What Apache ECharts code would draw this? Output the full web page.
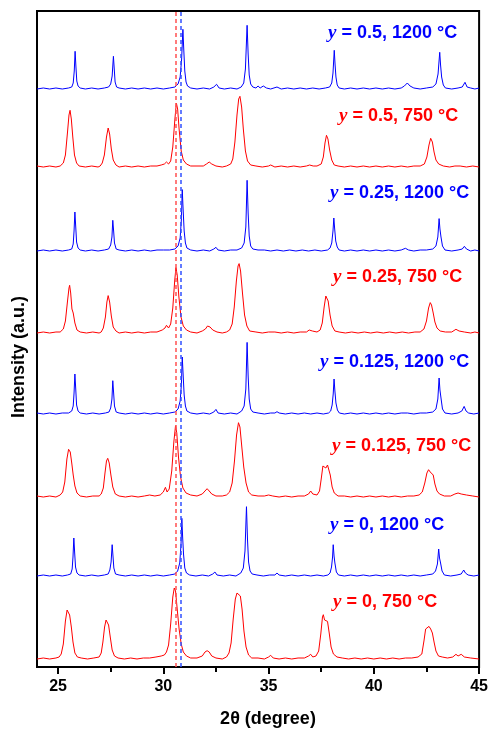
<!DOCTYPE html>
<html>
<head>
<meta charset="utf-8">
<script src="https://cdn.jsdelivr.net/npm/echarts@6/dist/echarts.min.js"></script>
<style>
  html, body { margin: 0; padding: 0; background: #fff; }
  #chart { width: 491px; height: 729px; }
</style>
</head>
<body>
<div id="chart"></div>
<script>
// XRD patterns, [2θ, intensity above baseline]
const b05 = [[24.0,0],[24.3,1],[24.6,0],[24.9,1],[25.2,0],[25.5,1],[25.65,2],[25.72,6],[25.77,18],[25.81,37.7],[25.85,22],[25.89,8],[25.95,3],[26.05,1],[26.3,0],[26.6,1],[26.9,0],[27.2,1],[27.4,2],[27.5,5],[27.57,13],[27.63,32.7],[27.67,20],[27.71,7],[27.78,2],[27.9,1],[28.2,0],[28.5,1],[28.8,0],[29.1,1],[29.4,0],[29.7,1],[30.0,0],[30.3,1],[30.55,2],[30.7,5],[30.8,12],[30.87,30],[30.93,59.7],[30.97,40],[31.02,18],[31.08,7],[31.15,3],[31.3,1],[31.6,0],[31.9,1],[32.2,0],[32.4,2],[32.53,4.7],[32.65,1],[32.9,0],[33.2,1],[33.5,0],[33.7,2],[33.82,6],[33.9,20],[33.98,63.7],[34.03,35],[34.08,14],[34.15,5],[34.25,2],[34.4,1],[34.5,3],[34.6,1],[34.75,3],[34.9,1],[35.1,0],[35.4,2],[35.6,0],[35.9,1],[36.2,0],[36.5,1],[36.8,0],[37.1,1],[37.4,0],[37.7,1],[37.9,2],[38.0,6],[38.06,16],[38.12,38.7],[38.16,24],[38.2,12],[38.26,4],[38.35,1],[38.6,0],[38.9,1],[39.2,0],[39.5,1],[39.8,0],[40.1,1],[40.4,0],[40.7,1],[41.0,0],[41.3,1],[41.45,3],[41.59,6],[41.72,3],[41.9,1],[42.2,0],[42.5,1],[42.8,2],[42.95,5],[43.05,15],[43.13,36.7],[43.17,24],[43.22,12],[43.3,4],[43.4,1],[43.7,0],[44.0,1],[44.2,2],[44.33,6.7],[44.43,2],[44.6,1],[44.8,0],[45.0,1]];

const r05 = [[24.0,1],[24.3,0],[24.6,1],[24.9,0],[25.1,1],[25.25,4],[25.35,12],[25.45,35],[25.52,52],[25.57,56.7],[25.63,48],[25.7,30],[25.78,12],[25.88,4],[26.0,1],[26.3,0],[26.6,1],[26.9,0],[27.0,1],[27.1,4],[27.2,12],[27.3,30],[27.38,39],[27.45,33],[27.53,18],[27.62,7],[27.75,2],[27.9,0],[28.2,1],[28.5,0],[28.8,1],[29.1,0],[29.4,1],[29.7,1],[29.9,2],[30.05,3],[30.15,5],[30.25,3],[30.35,6],[30.45,20],[30.55,48],[30.62,64],[30.68,58],[30.75,38],[30.85,16],[30.95,7],[31.1,3],[31.3,1],[31.6,1],[31.9,1],[32.05,3],[32.18,5],[32.3,3],[32.5,1],[32.8,0],[33.0,1],[33.2,3],[33.3,8],[33.4,25],[33.5,52],[33.58,68],[33.64,70.7],[33.72,60],[33.8,38],[33.9,16],[34.0,6],[34.15,2],[34.4,1],[34.7,0],[35.0,1],[35.1,2],[35.3,0],[35.6,1],[35.9,0],[36.2,1],[36.5,0],[36.8,1],[36.95,2],[37.03,3.7],[37.12,1],[37.3,1],[37.5,3],[37.6,10],[37.68,24],[37.75,31.7],[37.82,28],[37.9,17],[38.0,7],[38.12,2],[38.3,1],[38.6,0],[38.9,1],[39.2,0],[39.5,1],[39.8,0],[40.1,1],[40.4,0],[40.7,1],[41.0,0],[41.3,1],[41.6,0],[41.9,1],[42.2,1],[42.4,3],[42.52,10],[42.62,22],[42.7,28.7],[42.78,25],[42.86,15],[42.95,7],[43.08,3],[43.3,1],[43.6,0],[43.85,1],[43.94,2],[44.1,1],[44.4,0],[44.7,1],[45.0,0]];

const b025 = [[24.0,0],[24.3,1],[24.6,0],[24.9,1],[25.2,0],[25.5,1],[25.65,2],[25.72,7],[25.76,20],[25.8,39],[25.84,24],[25.88,9],[25.95,3],[26.05,1],[26.3,0],[26.6,1],[26.9,0],[27.2,1],[27.4,2],[27.5,6],[27.56,14],[27.6,30.7],[27.64,20],[27.68,8],[27.76,2],[27.9,1],[28.2,0],[28.5,1],[28.8,0],[29.1,1],[29.4,0],[29.7,1],[30.0,1],[30.3,1],[30.55,2],[30.7,5],[30.8,13],[30.86,32],[30.9,61.4],[30.94,42],[30.99,20],[31.05,8],[31.12,3],[31.3,1],[31.6,0],[31.9,1],[32.2,0],[32.4,2],[32.5,3.7],[32.6,1],[32.9,0],[33.2,1],[33.5,1],[33.72,3],[33.84,8],[33.92,24],[33.98,70.7],[34.03,38],[34.08,15],[34.15,5],[34.25,2],[34.5,1],[34.8,1],[35.1,0],[35.4,1],[35.7,0],[36.0,1],[36.3,0],[36.6,1],[36.9,0],[37.2,1],[37.5,0],[37.8,1],[37.92,3],[38.0,8],[38.06,20],[38.1,33],[38.14,22],[38.19,10],[38.26,4],[38.35,1],[38.6,0],[38.9,1],[39.2,0],[39.5,1],[39.8,0],[40.1,1],[40.4,0],[40.7,1],[41.0,0],[41.3,1],[41.5,2.7],[41.65,1],[41.9,0],[42.2,1],[42.5,1],[42.8,2],[42.95,5],[43.04,14],[43.1,32.4],[43.14,22],[43.19,14],[43.26,5],[43.38,1],[43.7,0],[44.0,1],[44.2,2],[44.3,4.7],[44.4,2],[44.6,0],[44.8,1],[45.0,0]];

const r025 = [[24.0,0],[24.3,1],[24.6,0],[24.9,1],[25.1,1],[25.25,4],[25.35,12],[25.45,32],[25.52,45],[25.55,47.7],[25.6,40],[25.66,24],[25.72,20],[25.8,10],[25.9,3],[26.05,1],[26.35,0],[26.65,1],[26.95,0],[27.05,1],[27.15,5],[27.25,16],[27.32,31],[27.38,37.4],[27.45,31],[27.53,17],[27.62,6],[27.75,2],[27.9,0],[28.2,1],[28.5,0],[28.8,1],[29.1,0],[29.4,1],[29.7,1],[29.95,3],[30.08,5],[30.15,7.7],[30.25,5],[30.35,9],[30.45,25],[30.54,52],[30.6,65.4],[30.66,58],[30.74,36],[30.84,16],[30.95,7],[31.1,3],[31.3,1],[31.6,0],[31.85,2],[32.0,4],[32.1,7],[32.15,8.7],[32.22,6],[32.35,3],[32.55,1],[32.8,0],[33.0,1],[33.15,3],[33.27,9],[33.37,26],[33.47,52],[33.55,67],[33.6,69.4],[33.67,62],[33.76,40],[33.86,18],[33.97,7],[34.1,2],[34.4,1],[34.7,0],[35.0,1],[35.3,1],[35.6,0],[35.9,1],[36.2,0],[36.5,1],[36.8,1],[36.93,3],[37.0,4.7],[37.08,2],[37.3,1],[37.45,3],[37.55,10],[37.64,26],[37.72,37],[37.76,38.4],[37.83,32],[37.92,18],[38.02,7],[38.15,2],[38.35,1],[38.65,0],[38.95,1],[39.25,0],[39.55,1],[39.85,0],[40.15,1],[40.45,0],[40.75,1],[41.05,0],[41.35,1],[41.65,0],[41.95,1],[42.2,1],[42.38,4],[42.5,12],[42.6,25],[42.68,30.4],[42.74,28],[42.82,20],[42.9,11],[43.0,5],[43.15,2],[43.4,1],[43.7,1],[43.9,3.7],[44.05,2],[44.3,1],[44.6,0],[44.8,1],[45.0,0]];

const b0125 = [[24.0,1],[24.3,0],[24.6,1],[24.9,0],[25.2,1],[25.5,1],[25.65,3],[25.72,8],[25.76,21],[25.8,40],[25.84,25],[25.88,9],[25.95,3],[26.05,1],[26.35,0],[26.65,1],[26.95,0],[27.25,1],[27.42,2],[27.5,6],[27.56,15],[27.6,33.3],[27.64,21],[27.68,8],[27.76,2],[27.9,1],[28.2,0],[28.5,1],[28.8,0],[29.1,1],[29.4,0],[29.7,1],[30.0,0],[30.3,1],[30.55,2],[30.7,5],[30.8,13],[30.86,30],[30.9,57],[30.94,40],[30.99,19],[31.05,8],[31.12,3],[31.3,1],[31.6,0],[31.9,1],[32.2,0],[32.4,2],[32.5,4.6],[32.6,1],[32.9,0],[33.2,1],[33.5,0],[33.72,3],[33.84,8],[33.92,25],[33.98,71.6],[34.03,38],[34.08,15],[34.15,5],[34.25,2],[34.5,1],[34.8,0],[35.1,1],[35.3,1],[35.4,2.3],[35.5,1],[35.8,0],[36.1,1],[36.4,0],[36.7,1],[37.0,0],[37.3,1],[37.6,0],[37.85,1],[37.95,3],[38.02,9],[38.07,20],[38.11,35],[38.15,23],[38.2,11],[38.27,4],[38.36,1],[38.6,0],[38.9,1],[39.2,0],[39.5,1],[39.8,0],[40.1,1],[40.4,0],[40.7,1],[41.0,0],[41.3,1],[41.6,1],[41.9,0],[42.2,1],[42.5,1],[42.8,2],[42.95,5],[43.04,15],[43.1,36],[43.14,24],[43.19,16],[43.26,5],[43.38,1],[43.7,0],[44.0,1],[44.18,3],[44.29,7.6],[44.38,3],[44.5,1],[44.75,0],[45.0,1]];

const r0125 = [[24.0,1],[24.3,0],[24.6,1],[24.9,0],[25.1,2],[25.22,5],[25.32,15],[25.42,38],[25.5,47.7],[25.58,45],[25.65,34],[25.72,22],[25.8,11],[25.9,4],[26.05,1],[26.35,0],[26.65,1],[26.95,1],[27.05,3],[27.15,9],[27.23,24],[27.3,36],[27.36,38.7],[27.43,34],[27.51,22],[27.6,10],[27.72,3],[27.9,1],[28.2,0],[28.5,1],[28.8,0],[29.1,1],[29.35,2],[29.6,1],[29.85,2],[30.0,5],[30.1,9.7],[30.18,5],[30.28,8],[30.4,26],[30.5,55],[30.58,71.3],[30.64,64],[30.72,40],[30.82,20],[30.93,9],[31.08,4],[31.3,2],[31.6,1],[31.85,3],[31.98,6],[32.08,8.3],[32.18,6],[32.3,3],[32.5,1],[32.8,1],[33.0,2],[33.15,5],[33.27,14],[33.38,36],[33.48,62],[33.57,74.3],[33.64,70],[33.72,52],[33.82,30],[33.93,14],[34.05,5],[34.2,2],[34.5,1],[34.8,1],[35.0,2],[35.2,1],[35.5,0],[35.8,1],[36.1,0],[36.4,1],[36.7,1],[36.9,3],[37.0,6],[37.1,3],[37.3,2],[37.42,6],[37.5,18],[37.58,31],[37.64,33],[37.72,29],[37.8,32],[37.86,33],[37.93,22],[38.02,10],[38.12,4],[38.3,1],[38.6,1],[38.9,0],[39.2,1],[39.5,0],[39.8,1],[40.1,0],[40.4,1],[40.7,0],[41.0,1],[41.3,0],[41.6,1],[41.9,1],[42.15,2],[42.3,5],[42.42,14],[42.52,24],[42.6,27.3],[42.68,25],[42.76,26],[42.82,22],[42.9,13],[43.0,6],[43.12,3],[43.35,1],[43.65,1],[43.85,3],[44.0,4],[44.15,3],[44.4,2],[44.7,1],[45.0,0]];

const b0 = [[24.0,0],[24.3,1],[24.6,0],[24.9,1],[25.2,0],[25.45,1],[25.6,2],[25.67,7],[25.71,19],[25.75,38],[25.79,23],[25.83,9],[25.9,3],[26.0,1],[26.3,0],[26.6,1],[26.9,0],[27.2,1],[27.38,2],[27.46,6],[27.52,14],[27.57,31.3],[27.61,20],[27.65,8],[27.73,2],[27.9,1],[28.2,0],[28.5,1],[28.8,0],[29.1,1],[29.4,0],[29.7,1],[30.0,0],[30.3,1],[30.55,2],[30.68,5],[30.78,13],[30.84,31],[30.88,57.7],[30.92,38],[30.96,22],[31.02,8],[31.1,3],[31.25,1],[31.55,0],[31.85,1],[32.15,0],[32.35,2],[32.45,4],[32.55,1],[32.85,0],[33.15,1],[33.45,0],[33.68,3],[33.8,8],[33.88,25],[33.95,69.3],[34.0,36],[34.05,14],[34.12,5],[34.22,2],[34.45,1],[34.75,0],[35.05,1],[35.3,1],[35.4,3],[35.5,1],[35.8,0],[36.1,1],[36.4,0],[36.7,1],[37.0,0],[37.3,1],[37.6,0],[37.82,1],[37.92,3],[37.99,9],[38.04,19],[38.07,31.3],[38.11,20],[38.15,13],[38.22,4],[38.32,1],[38.6,0],[38.9,1],[39.2,0],[39.5,1],[39.8,0],[40.1,1],[40.4,0],[40.7,1],[41.0,0],[41.3,1],[41.6,0],[41.9,1],[42.2,0],[42.5,1],[42.8,2],[42.93,5],[43.02,12],[43.08,27],[43.12,18],[43.17,13],[43.24,5],[43.35,1],[43.65,0],[43.95,1],[44.15,2],[44.27,6],[44.35,3],[44.48,1],[44.75,0],[45.0,1]];

const r0 = [[24.0,0],[24.3,1],[24.6,0],[24.9,1],[25.05,2],[25.15,5],[25.25,15],[25.35,38],[25.43,49],[25.48,50],[25.55,44],[25.63,32],[25.71,17],[25.8,6],[25.92,2],[26.1,1],[26.4,0],[26.7,1],[26.95,2],[27.05,6],[27.13,17],[27.21,32],[27.28,39],[27.33,39.3],[27.4,34],[27.48,22],[27.57,9],[27.68,3],[27.85,1],[28.15,0],[28.45,1],[28.75,0],[29.05,1],[29.35,1],[29.65,2],[29.9,3],[30.05,4],[30.15,7],[30.25,14],[30.35,35],[30.45,62],[30.52,71],[30.58,68],[30.66,50],[30.75,30],[30.85,15],[30.95,7],[31.1,3],[31.3,1],[31.6,1],[31.85,3],[31.98,7],[32.08,8.3],[32.18,7],[32.3,3],[32.5,1],[32.8,0],[33.0,2],[33.12,6],[33.22,16],[33.32,40],[33.42,60],[33.5,66],[33.58,67],[33.66,63],[33.74,50],[33.83,28],[33.93,12],[34.05,4],[34.2,1],[34.5,1],[34.8,0],[35.0,2],[35.1,3.7],[35.22,1],[35.5,0],[35.8,1],[36.1,0],[36.4,1],[36.7,1],[36.9,3],[37.0,4.7],[37.1,2],[37.25,3],[37.38,8],[37.48,25],[37.56,42],[37.6,44.3],[37.66,39],[37.73,37],[37.8,37.6],[37.88,26],[37.97,12],[38.08,5],[38.25,2],[38.5,1],[38.8,0],[39.1,1],[39.4,0],[39.7,1],[40.0,0],[40.3,1],[40.6,0],[40.9,1],[41.2,0],[41.5,1],[41.8,1],[42.1,2],[42.28,5],[42.38,18],[42.46,30],[42.54,28],[42.62,32.6],[42.7,30],[42.78,26],[42.86,17],[42.95,8],[43.07,3],[43.25,2],[43.5,1],[43.75,2],[43.9,4.7],[44.0,3],[44.15,4.7],[44.3,2],[44.6,1],[45.0,0]];

// stacking order, top to bottom
const patterns = [b05, r05, b025, r025, b0125, r0125, b0, r0];
const compositions = ['0.5', '0.5', '0.25', '0.25', '0.125', '0.125', '0', '0'];
const temperatures = ['1200', '750', '1200', '750', '1200', '750', '1200', '750'];
const baselines = [578, 500, 416, 334, 253, 170, 91, 8];
// label anchors: [2θ, intensity] of each label's left/baseline
const labelAnchors = [[37.82,624],[38.35,541],[37.92,464],[38.06,380],[37.44,295],[38.01,211],[37.92,132],[38.06,55]];
const xTicks = [25, 30, 35, 40, 45];
const xMinorTicks = [27.5, 32.5, 37.5, 42.5];
const refLines = [30.57, 30.85];

const BLUE = '#0000ff';
const RED = '#ff0000';
const SANS = 'Arial, "Liberation Sans", Helvetica, sans-serif';

const chart = echarts.init(document.getElementById('chart'), null, { renderer: 'canvas' });

const series = patterns.map((pts, i) => ({
  type: 'line',
  name: 'y = ' + compositions[i] + ', ' + temperatures[i] + ' °C',
  data: pts.map(p => [p[0], baselines[i] + p[1]]),
  showSymbol: false,
  symbol: 'none',
  animation: false,
  z: 2,
  lineStyle: { width: 1, color: temperatures[i] === '750' ? RED : BLUE },
  itemStyle: { color: temperatures[i] === '750' ? RED : BLUE }
}));

series.push({
  type: 'line',
  data: [],
  z: 5,
  markLine: {
    silent: true,
    symbol: 'none',
    animation: false,
    label: { show: false },
    lineStyle: { type: [4, 3], width: 1.5 },
    data: [
      { xAxis: refLines[0], lineStyle: { color: '#ff5050', type: [4, 3], width: 1.5 } },
      { xAxis: refLines[1], lineStyle: { color: '#3050ff', type: [4, 3], width: 1.5 } }
    ]
  }
});

chart.setOption({
  animation: false,
  backgroundColor: '#fff',
  grid: { left: 37, top: 11, width: 443, height: 656, show: true, borderColor: '#000', borderWidth: 2, backgroundColor: 'transparent' },
  xAxis: [{
    type: 'value', min: 24, max: 45,
    axisLine: { show: true, lineStyle: { color: '#000', width: 2 } },
    axisTick: { show: true, inside: false, length: 7, lineStyle: { color: '#000', width: 2 }, customValues: xTicks },
    axisLabel: { show: true, customValues: xTicks, margin: 12, color: '#000', fontSize: 16, fontWeight: 'bold', fontFamily: SANS },
    splitLine: { show: false }
  }, {
    type: 'value', min: 24, max: 45, position: 'bottom',
    axisLine: { show: false },
    axisTick: { show: true, inside: false, length: 5, lineStyle: { color: '#000', width: 2 }, customValues: xMinorTicks },
    axisLabel: { show: false },
    splitLine: { show: false }
  }],
  yAxis: {
    type: 'value', min: 0, max: 656,
    axisLine: { show: false }, axisTick: { show: false },
    axisLabel: { show: false }, splitLine: { show: false }
  },
  series: series
});

// sample labels and axis titles
const graphics = labelAnchors.map((a, i) => {
  const px = chart.convertToPixel({ gridIndex: 0 }, a);
  return {
    type: 'text',
    x: px[0], y: px[1],
    silent: true,
    style: {
      text: '{i|y}{n| = ' + compositions[i] + ', ' + temperatures[i] + ' °C}',
      verticalAlign: 'bottom',
      align: 'left',
      fill: temperatures[i] === '750' ? RED : BLUE,
      rich: {
        i: { fontFamily: '"Times New Roman", "Liberation Serif", serif', fontStyle: 'italic', fontWeight: 'bold', fontSize: 19, fill: temperatures[i] === '750' ? RED : BLUE },
        n: { fontFamily: SANS, fontWeight: 'bold', fontSize: 18, fill: temperatures[i] === '750' ? RED : BLUE }
      }
    }
  };
});

graphics.push({
  type: 'text', x: 268, y: 719, silent: true,
  style: { text: '2θ (degree)', align: 'center', verticalAlign: 'middle', fontFamily: SANS, fontWeight: 'bold', fontSize: 18, fill: '#000' }
});
graphics.push({
  type: 'text', x: 19, y: 357, rotation: Math.PI / 2, silent: true,
  style: { text: 'Intensity (a.u.)', align: 'center', verticalAlign: 'middle', fontFamily: SANS, fontWeight: 'bold', fontSize: 18, fill: '#000' }
});

chart.setOption({ graphic: graphics });
</script>
</body>
</html>
